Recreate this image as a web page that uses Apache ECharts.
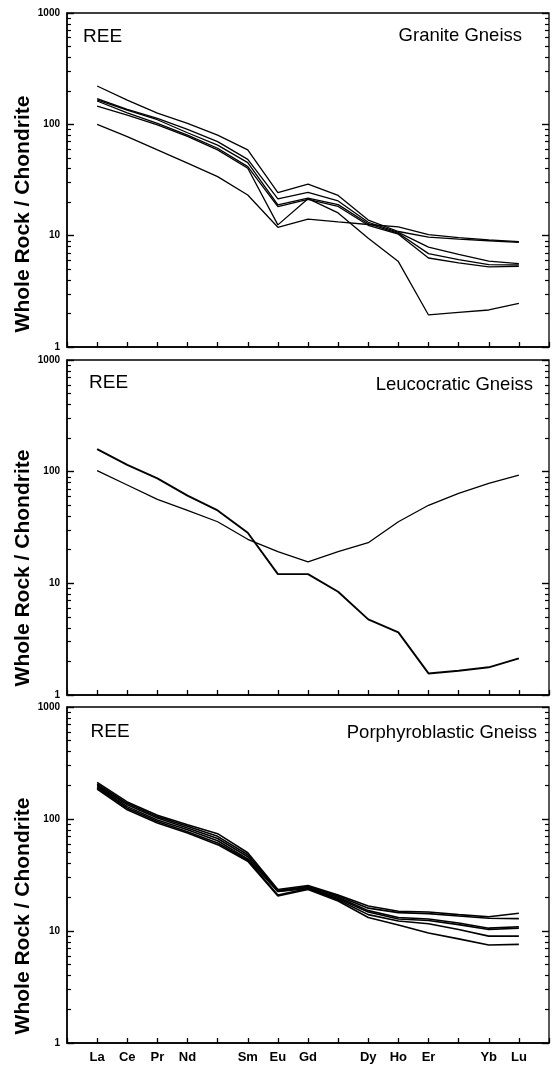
<!DOCTYPE html>
<html>
<head>
<meta charset="utf-8">
<script src="https://cdn.jsdelivr.net/npm/echarts@6/dist/echarts.min.js"></script>
<style>
html,body{margin:0;padding:0;background:#fff;}
#chart{width:555px;height:1068px;}
</style>
</head>
<body>
<div id="chart"></div>
<script>
// REE elements in order (positions 1..15)
const elements = ['La','Ce','Pr','Nd','Pm','Sm','Eu','Gd','Tb','Dy','Ho','Er','Tm','Yb','Lu'];
const unlabeled = ['Pm','Tb','Tm'];
const yMajorTicks = [1, 10, 100, 1000];
const yMinorTicks = [2,3,4,5,6,7,8,9,20,30,40,50,60,70,80,90,200,300,400,500,600,700,800,900];

// Panel 1: Granite Gneiss
const granite1 = [221, 165, 126, 102, 80, 58.9, 24.3, 29, 23, 13.8, 10.9, 9.7, 9.3, 9.0, 8.7];
const granite2 = [170, 136, 113, 90, 70, 48.5, 21.4, 24.5, 20.5, 13.2, 10.7, 7.9, 6.8, 5.9, 5.6];
const granite3 = [166, 134, 110, 84, 65, 45.3, 18.9, 21.7, 19.0, 12.8, 10.5, 6.9, 6.1, 5.5, 5.45];
const granite4 = [162, 127, 102, 80, 61, 41.7, 18.2, 21.2, 18.3, 12.4, 10.3, 6.3, 5.7, 5.25, 5.3];
const granite5 = [146, 121, 99, 78, 59, 40.3, 12.5, 21.5, 16.0, 9.5, 5.85, 1.94, 2.05, 2.15, 2.47];
const granite6 = [100, 77.6, 58.9, 44.8, 33.9, 23.2, 11.9, 14.1, 13.3, 12.6, 12.0, 10.2, 9.6, 9.15, 8.85];

// Panel 2: Leucocratic Gneiss
const leuco1 = [159, 115, 87, 61, 45, 28.4, 12.1, 12.1, 8.4, 4.76, 3.64, 1.56, 1.65, 1.77, 2.13];
const leuco2 = [102, 76, 56.5, 45, 35.6, 24.8, 19.2, 15.6, 19.2, 23.1, 35.6, 50, 64, 78.5, 93];

// Panel 3: Porphyroblastic Gneiss
const porph1 = [212, 142, 108, 89, 74, 50, 23.5, 25.5, 21, 16.7, 15.0, 14.8, 14.0, 13.4, 14.4];
const porph2 = [206, 138, 105, 86, 70, 48, 23, 25, 20.5, 16.0, 14.6, 14.3, 13.6, 13.0, 12.9];
const porph3 = [200, 134, 102, 83, 67, 46, 22.5, 24.5, 20, 15.2, 13.2, 12.8, 11.8, 10.6, 10.9];
const porph4 = [195, 129, 98, 80, 64, 44, 22.5, 24, 19.5, 14.8, 12.8, 12.4, 11.4, 10.3, 10.6];
const porph5 = [190, 125, 95, 77, 61, 43, 21, 24, 19, 14.0, 12.3, 11.6, 10.3, 9.0, 9.0];
const porph6 = [185, 121, 92, 75, 59, 42, 20.5, 23.5, 18.5, 13.2, 11.3, 9.6, 8.5, 7.5, 7.6];

const panelTitles = ['Granite Gneiss', 'Leucocratic Gneiss', 'Porphyroblastic Gneiss'];
const panelSeries = [
  [granite1, granite2, granite3, granite4, granite5, granite6],
  [leuco1, leuco2],
  [porph1, porph2, porph3, porph4, porph5, porph6]
];
const yName = 'Whole Rock / Chondrite';
const reeLabel = 'REE';

const FONT = '"Liberation Sans", Arial, Helvetica, sans-serif';
const gridDefs = [
  {top: 13, height: 334},
  {top: 360, height: 335},
  {top: 707, height: 336}
];
const titlePos = [
  {x: 522, y: 35.5},
  {x: 533, y: 385},
  {x: 537, y: 733}
];
const reePos = [{x: 83, y: 36.5}, {x: 89, y: 383}, {x: 90.5, y: 732}];
const yNamePos = [214, 568, 916];

const grid = [], xAxis = [], yAxis = [], series = [], graphic = [];
const minorLog = yMinorTicks.map(v => Math.log10(v));
const majorLog = yMajorTicks.map(v => Math.log10(v));

gridDefs.forEach((g, i) => {
  grid.push({left: 67, width: 482, top: g.top, height: g.height, show: true,
    borderColor: '#000', borderWidth: 1.3, backgroundColor: 'transparent'});
  xAxis.push({
    gridIndex: i, type: 'value', min: 0, max: 16, interval: 1,
    axisLine: {show: true, onZero: false, lineStyle: {color: '#000', width: 1.5}},
    axisTick: {show: true, inside: true, length: 5, lineStyle: {color: '#000', width: 1.3}},
    axisLabel: {
      show: i === 2, margin: 8, color: '#000', fontFamily: FONT, fontWeight: 'bold', fontSize: 13,
      formatter: function (v) {
        const n = Math.round(v);
        const el = elements[n - 1];
        if (!el || unlabeled.indexOf(el) >= 0) return '';
        return el;
      }
    },
    splitLine: {show: false}
  });
  // data axis (log)
  yAxis.push({
    gridIndex: i, type: 'log', logBase: 10, min: 1, max: 1000, splitLine: {show: false},
    position: 'left',
    axisLine: {show: true, onZero: false, lineStyle: {color: '#000', width: 1.5}},
    axisTick: {show: true, inside: true, length: 7, lineStyle: {color: '#000', width: 1.4}},
    axisLabel: {show: true, margin: 7, color: '#000', fontFamily: FONT, fontWeight: 'bold', fontSize: 10,
      formatter: function (v) { return String(Math.round(v)); }}
  });
  const tickAxis = function (pos, vals, len, w) {
    return {
      gridIndex: i, type: 'value', min: 0, max: 3, position: pos, splitLine: {show: false},
      axisLine: {show: false, onZero: false},
      axisTick: {show: true, inside: true, length: len, customValues: vals, lineStyle: {color: '#000', width: w}},
      axisLabel: {show: false}
    };
  };
  yAxis.push(tickAxis('left', minorLog, 4, 1.2));
  yAxis.push(tickAxis('right', majorLog, 7, 1.4));
  yAxis.push(tickAxis('right', minorLog, 4, 1.2));

  panelSeries[i].forEach((vals, k) => {
    let w = 1.3;
    if (i === 1 && k === 0) w = 1.9;
    if (i === 2) w = 1.6;
    series.push({
      type: 'line', xAxisIndex: i, yAxisIndex: i * 4, symbol: 'none', silent: true,
      lineStyle: {color: '#000', width: w},
      data: vals.map((v, j) => [j + 1, v])
    });
  });

  graphic.push({
    type: 'text', x: reePos[i].x, y: reePos[i].y,
    style: {text: reeLabel, font: '19px ' + FONT, fill: '#000',
      textAlign: 'left', textVerticalAlign: 'middle', align: 'left', verticalAlign: 'middle'}
  });
  graphic.push({
    type: 'text', x: titlePos[i].x, y: titlePos[i].y,
    style: {text: panelTitles[i], font: '18.5px ' + FONT, fill: '#000',
      textAlign: 'right', textVerticalAlign: 'middle', align: 'right', verticalAlign: 'middle'}
  });
  graphic.push({
    type: 'text', x: 23, y: yNamePos[i], rotation: Math.PI / 2,
    style: {text: yName, font: 'bold 21px ' + FONT, fill: '#000',
      textAlign: 'center', textVerticalAlign: 'middle', align: 'center', verticalAlign: 'middle'}
  });
});

const chart = echarts.init(document.getElementById('chart'), null, {renderer: 'canvas'});
chart.setOption({
  animation: false,
  backgroundColor: '#fff',
  grid: grid,
  xAxis: xAxis,
  yAxis: yAxis,
  series: series,
  graphic: graphic
});
</script>
</body>
</html>
